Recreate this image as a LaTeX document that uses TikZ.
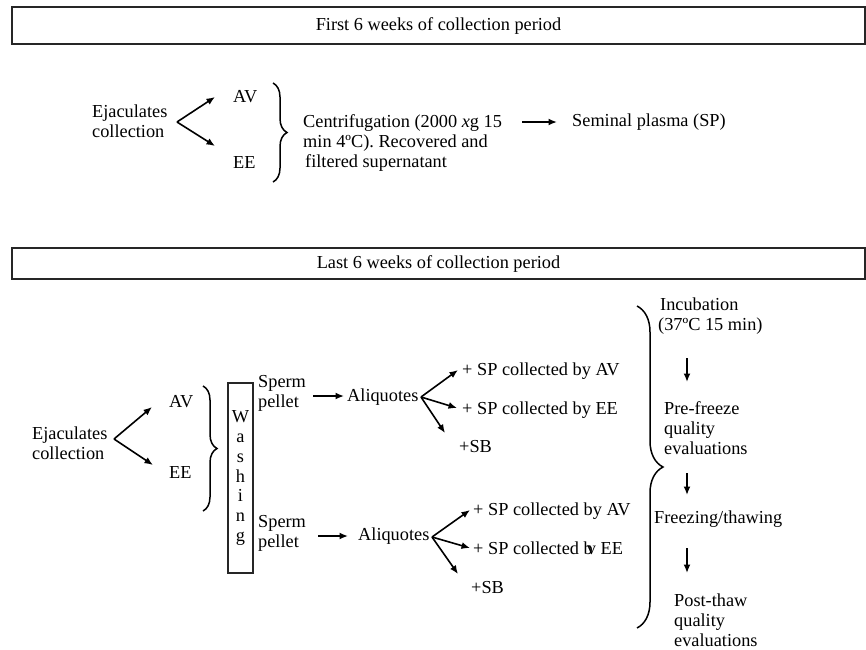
\documentclass[tikz,border=0pt]{standalone}
\usepackage{fontspec}
\setmainfont{Liberation Serif}
\usepackage{tikz}
\usetikzlibrary{calc, arrows.meta, decorations.pathreplacing}

\tikzset{
  txt/.style={anchor=west, inner sep=0pt, align=left,
    font=\fontsize{18.3}{19.8}\selectfont},
  headbox/.style={draw=black!85, line width=1.2pt, inner sep=0pt,
    minimum width=853pt, font=\fontsize{18.3}{19.8}\selectfont},
  arr/.style={-{Latex[length=8.5pt,width=7pt]}, line width=1.6pt},
  brc/.style={decorate, line width=1.5pt,
    decoration={brace, amplitude=#1}},
}

\begin{document}
\begin{tikzpicture}[x=1pt, y=-1pt]
    \useasboundingbox (0,0) rectangle (866,649);
    % Header boxes
    \node[headbox, minimum height=37pt] (first) at (438.5,25.5) {First 6 weeks of collection period};
    \node[headbox, minimum height=31pt] (last) at (438.5,263.5) {Last 6 weeks of collection period};
    % First period: collection and centrifugation
    \node[txt] (ejA) at (92,121) {Ejaculates\\collection};
    \node[txt] (avA) at (233,97) {AV};
    \node[txt] (eeA) at (233,163) {EE};
    \coordinate (vA) at (177,122);
    \coordinate (tA1) at (215,97);
    \coordinate (tA2) at (215,146);
    \draw[arr] (vA) -- (tA1);
    \draw[arr] (vA) -- (tA2);
    \draw[brc=14pt] (273,83) -- (273,182);
    \node[txt] (centri) at (303,143) {Centrifugation (2000 \textit{x}g 15\\min 4ºC). Recovered and\\\hspace{2pt}filtered supernatant};
    \node[txt] (plasma) at (572,122) {Seminal plasma (SP)};
    \coordinate (cA) at (522,122);
    \draw[arr] (cA) -- ($(plasma.west)+(-15,0)$);
    % Last period: collection and washing
    \node[txt] (ejB) at (32,443) {Ejaculates\\collection};
    \node[txt] (avB) at (169,402) {AV};
    \node[txt] (eeB) at (169,472) {EE};
    \coordinate (vB) at (114,439);
    \coordinate (tB1) at (152,407);
    \coordinate (tB2) at (153,465);
    \draw[arr] (vB) -- (tB1);
    \draw[arr] (vB) -- (tB2);
    \draw[brc=14pt] (203,386) -- (203,511);
    \node[draw=black!85, line width=1.2pt, inner sep=0pt, minimum width=25pt, minimum height=190pt,
      align=center, font=\fontsize{18.3}{19.8}\selectfont] (wash) at (240.5,478) {W\\a\\s\\h\\i\\n\\g};
    \node[txt] (pelA) at (258,393) {Sperm\\pellet};
    \node[txt] (pelB) at (258,533) {Sperm\\pellet};
    % Aliquotes, upper
    \node[txt] (aliA) at (347,397) {Aliquotes};
    \coordinate (aA) at (313,396);
    \draw[arr] (aA) -- ($(aliA.west)+(-3,-1)$);
    \node[txt] (spAV1) at (462,371) {+ SP collected by AV};
    \node[txt] (spEE1) at (462,410) {+ SP collected by EE};
    \node[txt] (sb1) at (459,447) {+SB};
    \coordinate (fA) at (421,397);
    \coordinate (fA1) at (458,370);
    \coordinate (fA2) at (457,408);
    \coordinate (fA3) at (445,433);
    \draw[arr] (fA) -- (fA1);
    \draw[arr] (fA) -- (fA2);
    \draw[arr] (fA) -- (fA3);
    % Aliquotes, lower
    \node[txt] (aliB) at (358,536) {Aliquotes};
    \coordinate (aB) at (318,536);
    \draw[arr] (aB) -- ($(aliB.west)+(-10,0)$);
    \node[txt] (spAV2) at (473,511) {+ SP collected by AV};
    \node[txt] (spEE2) at (473,548) {+ SP collected b\kern-0.32em v EE};
    \node[txt] (sb2) at (471,588) {+SB};
    \coordinate (fB) at (432,537);
    \coordinate (fB1) at (470,510);
    \coordinate (fB2) at (470,548);
    \coordinate (fB3) at (458,574);
    \draw[arr] (fB) -- (fB1);
    \draw[arr] (fB) -- (fB2);
    \draw[arr] (fB) -- (fB3);
    % Evaluation steps
    \draw[brc=26pt] (637,306) -- (637,628);
    \node[txt] (incub) at (658,316) {\hspace{2pt}Incubation\\(37ºC 15 min)};
    \node[txt] (pre) at (664,428) {Pre-freeze\\quality\\evaluations};
    \node[txt] (freeze) at (654,519) {Freezing/thawing};
    \node[txt] (post) at (674,620) {Post-thaw\\quality\\evaluations};
    \coordinate (s1) at (687,358);
    \coordinate (s2) at (687,473);
    \coordinate (s3) at (687,548);
    \draw[arr] (s1) -- ++(0,24);
    \draw[arr] (s2) -- ++(0,22);
    \draw[arr] (s3) -- ++(0,25);
\end{tikzpicture}
\end{document}
